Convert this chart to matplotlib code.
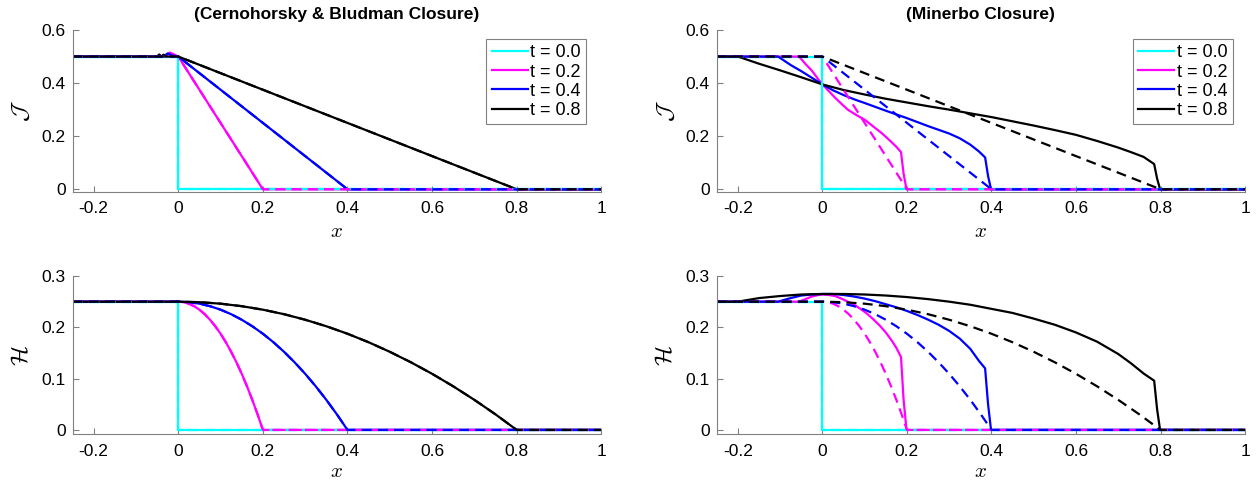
import numpy as np
import matplotlib.pyplot as plt

plt.rcParams['font.family'] = ['Liberation Sans', 'DejaVu Sans']
plt.rcParams['mathtext.fontset'] = 'cm'

##### Data #####

labels = ['t = 0.0', 't = 0.2', 't = 0.4', 't = 0.8']
cols = ['#00ffff', '#ff00ff', '#0000ff', '#000000']

# exact solution (dashed), J
xJ_ex = [[-0.25, 0.0, 0.0, 1.0],
         [-0.25, 0.0, 0.2, 1.0],
         [-0.25, 0.0, 0.4, 1.0],
         [-0.25, 0.0, 0.8, 1.0]]
J_ex = [[0.5, 0.5, 0.0, 0.0],
        [0.5, 0.5, 0.0, 0.0],
        [0.5, 0.5, 0.0, 0.0],
        [0.5, 0.5, 0.0, 0.0]]

# exact solution (dashed), H
xH_ex = [[-0.25, 0.0, 0.0, 1.0],
         [-0.25, 0.0, 0.0125, 0.025, 0.0375, 0.05, 0.0625, 0.075, 0.0875, 0.1,
          0.1125, 0.125, 0.1375, 0.15, 0.1625, 0.175, 0.1875, 0.2, 1.0],
         [-0.25, 0.0, 0.025, 0.05, 0.075, 0.1, 0.125, 0.15, 0.175, 0.2,
          0.225, 0.25, 0.275, 0.3, 0.325, 0.35, 0.375, 0.4, 1.0],
         [-0.25, 0.0, 0.05, 0.1, 0.15, 0.2, 0.25, 0.3, 0.35, 0.4,
          0.45, 0.5, 0.55, 0.6, 0.65, 0.7, 0.75, 0.8, 1.0]]
H_prof = [0.25, 0.25, 0.249, 0.2461, 0.2412, 0.2344, 0.2256, 0.2148, 0.2021, 0.1875,
          0.1709, 0.1523, 0.1318, 0.1094, 0.0850, 0.0586, 0.0303, 0.0, 0.0]
H_ex = [[0.25, 0.25, 0.0, 0.0], H_prof, H_prof, H_prof]

# Cernohorsky & Bludman closure, J (small wiggle near x=0)
xJ_cb = [[-0.25, 0.0, 0.0, 1.0],
         [-0.25, -0.03, -0.02, -0.01, 0.0, 0.2, 1.0],
         [-0.25, -0.035, -0.025, -0.015, 0.0, 0.4, 1.0],
         [-0.25, -0.05, -0.045, -0.04, -0.035, -0.03, 0.0, 0.8, 1.0]]
J_cb = [[0.5, 0.5, 0.0, 0.0],
        [0.5, 0.5, 0.515, 0.508, 0.5, 0.0, 0.0],
        [0.5, 0.5, 0.512, 0.504, 0.5, 0.0, 0.0],
        [0.5, 0.5, 0.508, 0.5, 0.507, 0.5, 0.5, 0.0, 0.0]]

# Minerbo closure, J
xJ_mb = [[-0.25, 0.0, 0.0, 1.0],
         [-0.25, -0.055, -0.04, -0.025, -0.01, 0.0, 0.015, 0.03, 0.045, 0.06, 0.08,
          0.1, 0.12, 0.14, 0.16, 0.175, 0.186, 0.192, 0.199, 1.0],
         [-0.25, -0.105, -0.075, -0.05, -0.025, 0.0, 0.025, 0.05, 0.075, 0.1, 0.15,
          0.2, 0.25, 0.3, 0.325, 0.35, 0.37, 0.385, 0.392, 0.399, 1.0],
         [-0.25, -0.2, -0.15, -0.1, -0.05, 0.0, 0.05, 0.1, 0.15, 0.2, 0.25, 0.3, 0.35,
          0.4, 0.45, 0.5, 0.55, 0.6, 0.65, 0.7, 0.73, 0.76, 0.785, 0.792, 0.799, 1.0]]
J_mb = [[0.5, 0.5, 0.0, 0.0],
        [0.5, 0.5, 0.472, 0.447, 0.415, 0.395, 0.37, 0.345, 0.322, 0.30, 0.28,
         0.262, 0.237, 0.212, 0.183, 0.16, 0.14, 0.06, 0.0, 0.0],
        [0.5, 0.5, 0.468, 0.445, 0.42, 0.395, 0.373, 0.355, 0.339, 0.325, 0.296,
         0.268, 0.238, 0.21, 0.192, 0.168, 0.143, 0.12, 0.05, 0.0, 0.0],
        [0.5, 0.5, 0.473, 0.448, 0.422, 0.395, 0.374, 0.357, 0.341, 0.327, 0.313, 0.30, 0.286,
         0.272, 0.256, 0.240, 0.223, 0.205, 0.182, 0.157, 0.14, 0.122, 0.095, 0.04, 0.0, 0.0]]

# Minerbo closure, H
xH_mb = [[-0.25, 0.0, 0.0, 1.0],
         [-0.25, -0.055, -0.04, -0.025, -0.01, 0.0, 0.015, 0.03, 0.045, 0.06, 0.075,
          0.09, 0.105, 0.12, 0.135, 0.15, 0.165, 0.175, 0.186, 0.192, 0.199, 1.0],
         [-0.25, -0.105, -0.075, -0.05, -0.025, 0.0, 0.025, 0.05, 0.075, 0.1, 0.125,
          0.15, 0.175, 0.2, 0.225, 0.25, 0.275, 0.3, 0.325, 0.35, 0.37, 0.385, 0.392, 0.399, 1.0],
         [-0.25, -0.2, -0.15, -0.1, -0.05, 0.0, 0.05, 0.1, 0.15, 0.2, 0.25, 0.3, 0.35,
          0.4, 0.45, 0.5, 0.55, 0.6, 0.65, 0.7, 0.73, 0.76, 0.785, 0.792, 0.799, 1.0]]
H_mb = [[0.25, 0.25, 0.0, 0.0],
        [0.25, 0.25, 0.255, 0.26, 0.263, 0.264, 0.263, 0.261, 0.256, 0.25, 0.244,
         0.236, 0.227, 0.216, 0.204, 0.19, 0.173, 0.16, 0.142, 0.06, 0.0, 0.0],
        [0.25, 0.25, 0.257, 0.262, 0.264, 0.265, 0.265, 0.263, 0.26, 0.256, 0.251,
         0.245, 0.239, 0.232, 0.224, 0.215, 0.205, 0.193, 0.178, 0.158, 0.135, 0.12, 0.05, 0.0, 0.0],
        [0.25, 0.25, 0.257, 0.261, 0.264, 0.265, 0.265, 0.264, 0.262, 0.259, 0.255, 0.25, 0.244,
         0.236, 0.228, 0.217, 0.205, 0.19, 0.172, 0.148, 0.13, 0.11, 0.096, 0.04, 0.0, 0.0]]

#################

fig = plt.figure(figsize=(12.59, 4.84), dpi=100)

ax1 = fig.add_axes([0.0576, 0.604, 0.420, 0.334])
ax2 = fig.add_axes([0.5693, 0.604, 0.4196, 0.334])
ax3 = fig.add_axes([0.0576, 0.1027, 0.420, 0.327])
ax4 = fig.add_axes([0.5693, 0.1027, 0.4196, 0.327])

panels = [(ax1, xJ_cb, J_cb, xJ_ex, J_ex),
          (ax2, xJ_mb, J_mb, xJ_ex, J_ex),
          (ax3, xH_ex, H_ex, xH_ex, H_ex),
          (ax4, xH_mb, H_mb, xH_ex, H_ex)]

lw = 1.6
for ax, xs, ys, xe, ye in panels:
    for i in range(4):
        ax.plot(xs[i], ys[i], color=cols[i], lw=lw, label=labels[i])
    for i in range(4):
        ax.plot(xe[i], ye[i], color=cols[i], lw=lw, dashes=(4.5, 2.8))

    ax.set_xlim(-0.25, 1.0)
    ax.set_xticks([-0.2, 0, 0.2, 0.4, 0.6, 0.8, 1.0])
    ax.set_xticklabels(['-0.2', '0', '0.2', '0.4', '0.6', '0.8', '1'])
    ax.spines['top'].set_visible(False)
    ax.spines['right'].set_visible(False)
    for s in ['left', 'bottom']:
        ax.spines[s].set_color('#808080')
        ax.spines[s].set_linewidth(0.8)
    ax.tick_params(direction='in', length=4, width=0.8, color='#808080',
                   labelsize=12.5, pad=5)
    ax.tick_params(axis='x', pad=7)

for ax in [ax1, ax2]:
    ax.set_xlabel(r'$x$', fontsize=15, labelpad=4)
    ax.set_ylim(-0.009, 0.6)
    ax.set_yticks([0, 0.2, 0.4, 0.6])
    ax.set_yticklabels(['0', '0.2', '0.4', '0.6'])
    ax.set_ylabel(r'$\mathcal{J}$', fontsize=17, labelpad=6)

for ax in [ax3, ax4]:
    ax.set_xlabel(r'$x$', fontsize=15, labelpad=2)
    ax.set_ylim(-0.0085, 0.3)
    ax.set_yticks([0, 0.1, 0.2, 0.3])
    ax.set_yticklabels(['0', '0.1', '0.2', '0.3'])
    ax.set_ylabel(r'$\mathcal{H}$', fontsize=17, labelpad=6)

ax1.set_title('(Cernohorsky & Bludman Closure)', fontsize=12.5, fontweight='bold', pad=8)
ax2.set_title('(Minerbo Closure)', fontsize=12.5, fontweight='bold', pad=8)

for ax, xr in [(ax1, 0.972), (ax2, 0.977)]:
    h, l = ax.get_legend_handles_labels()
    leg = ax.legend(h[:4], l[:4], loc='upper right', bbox_to_anchor=(xr, 0.944),
                    borderaxespad=0, fontsize=13, handlelength=2.0,
                    handletextpad=0.15, labelspacing=0.12, borderpad=0.3,
                    fancybox=False, framealpha=1, edgecolor='#808080')
    leg.get_frame().set_linewidth(0.8)

plt.savefig('out.png', dpi=100)
